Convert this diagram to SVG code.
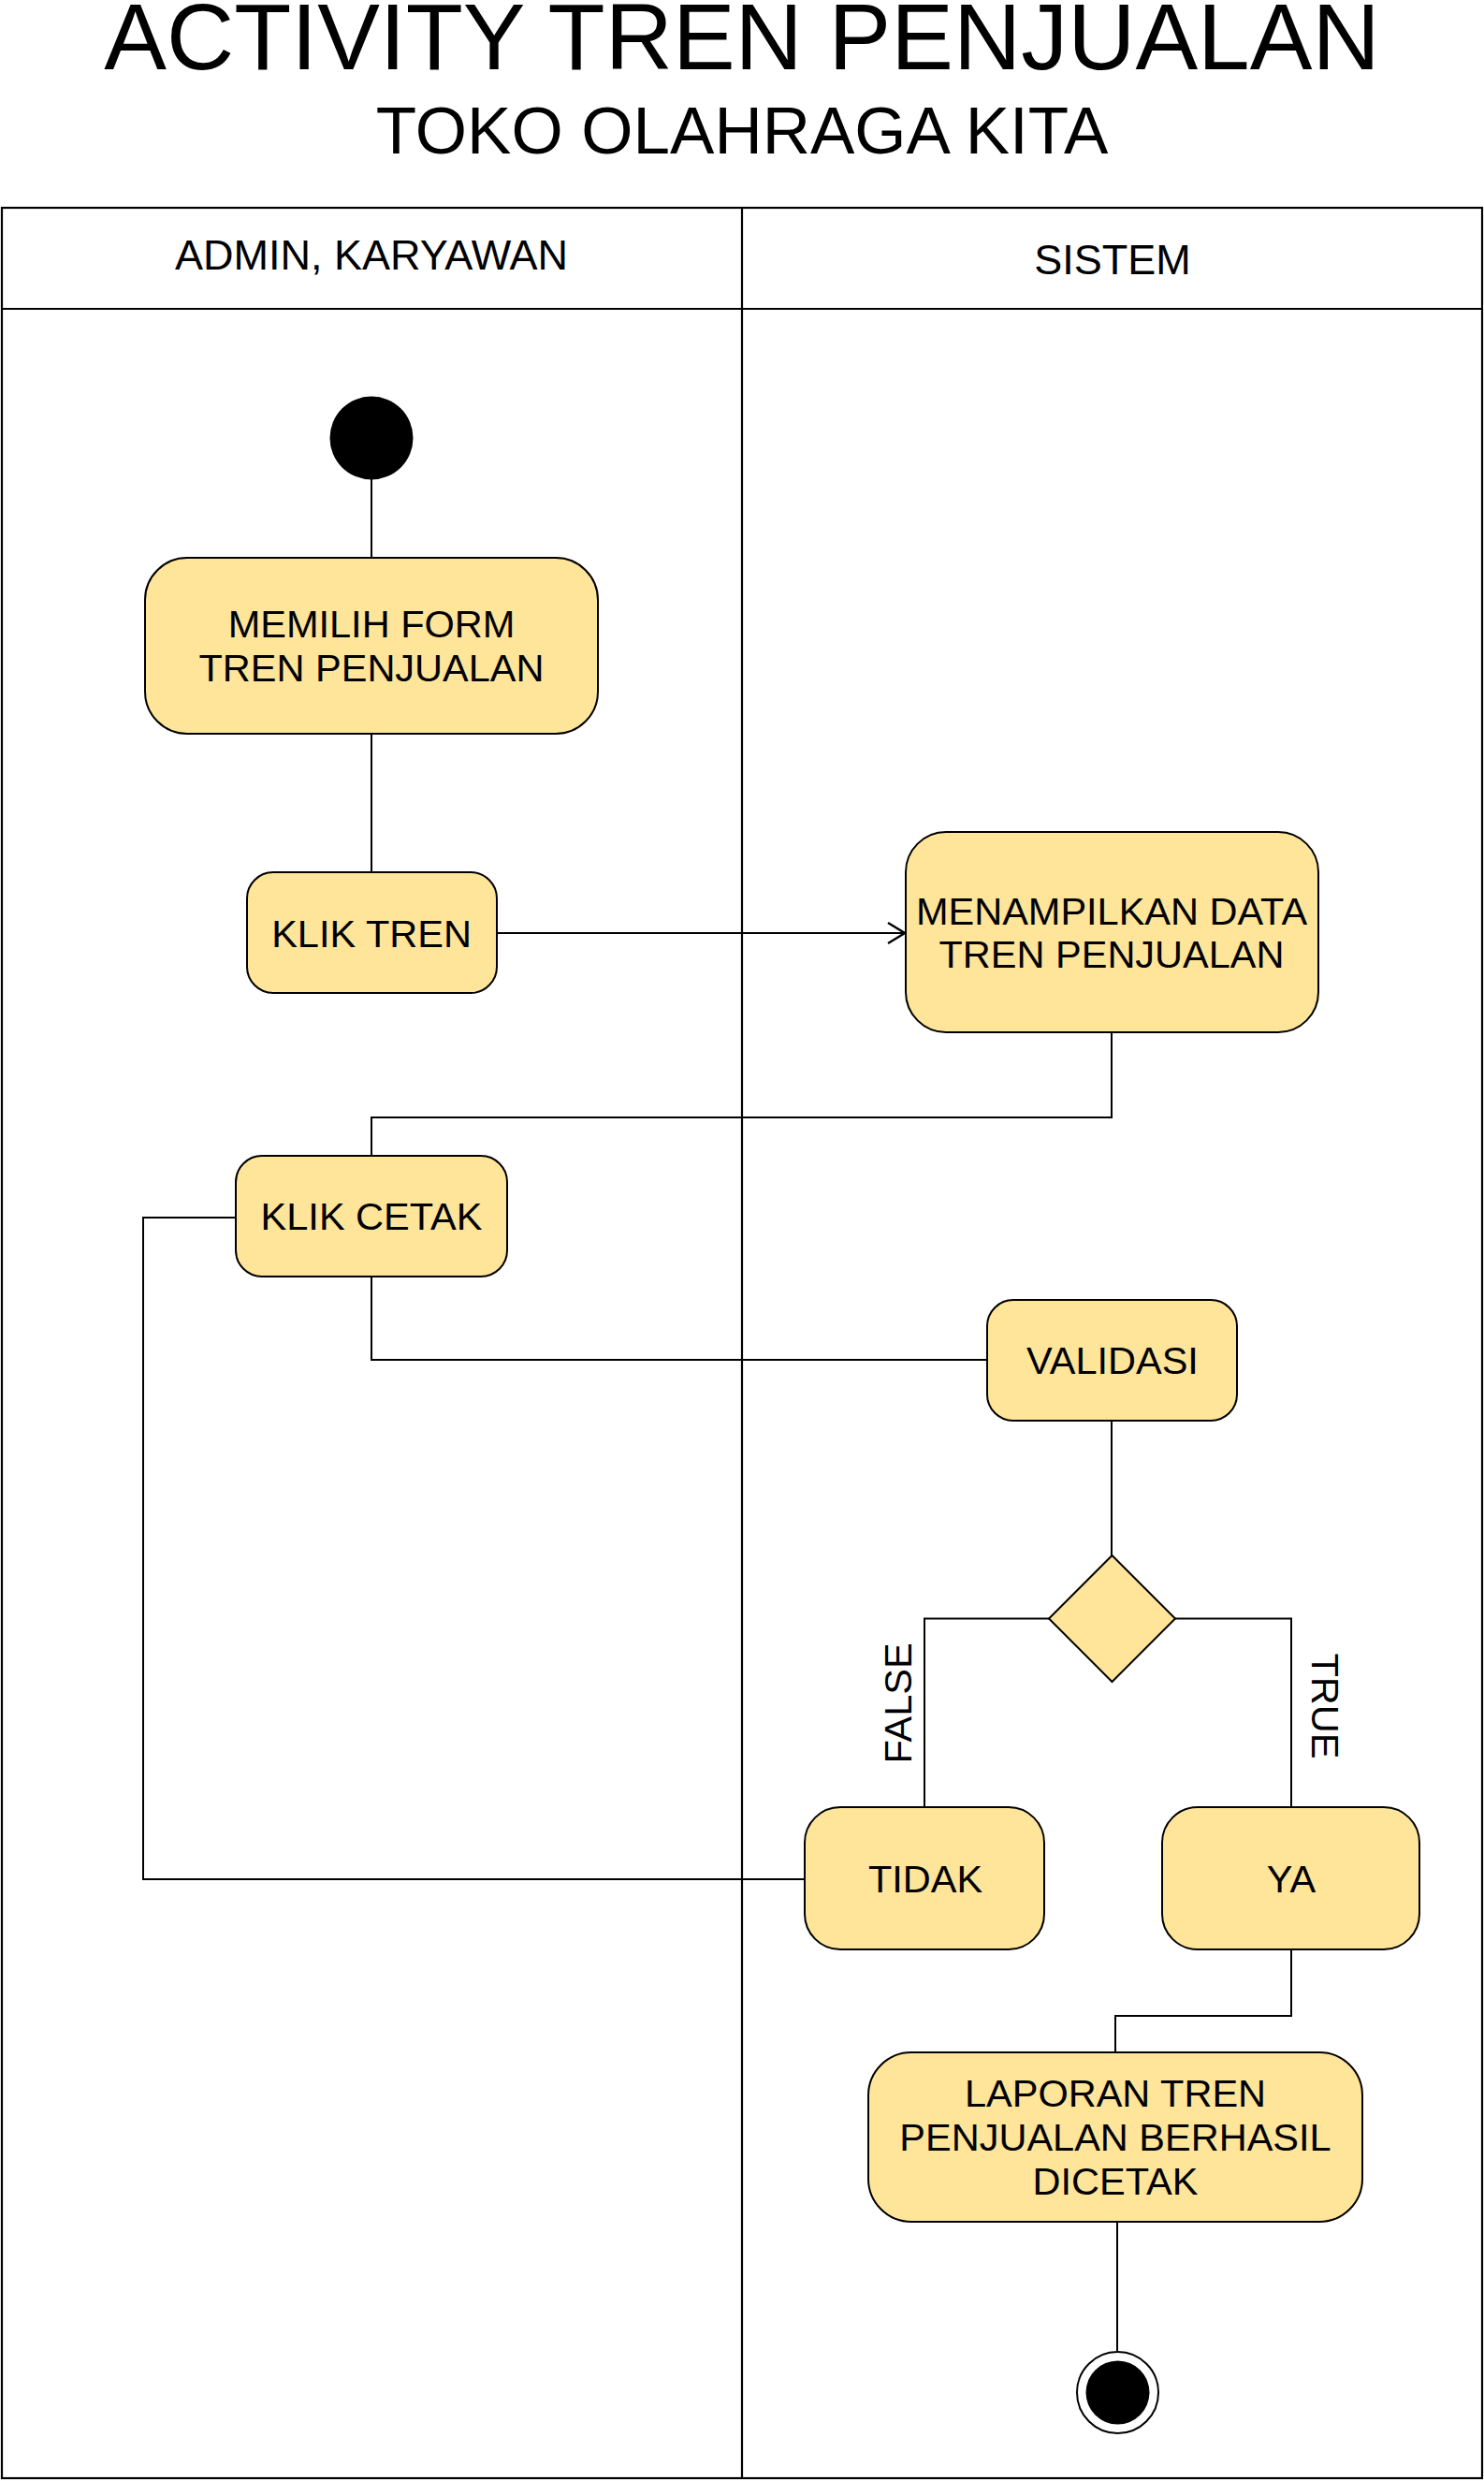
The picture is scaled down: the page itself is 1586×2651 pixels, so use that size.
<svg xmlns="http://www.w3.org/2000/svg" width="1586" height="2651" viewBox="0 0 1586 2651">
<defs>
<style>
text{font-family:"Liberation Sans",Arial,sans-serif;fill:#000;text-anchor:middle}
.node{fill:#FFE599;stroke:#000;stroke-width:2}
.lbl{font-size:41.5px}
.hdr{font-size:45px}
.lane{fill:none;stroke:#000;stroke-width:2.2}
.conn path,.conn line{fill:none;stroke:#000;stroke-width:2}
</style>
<marker id="arrow" markerUnits="userSpaceOnUse" markerWidth="22" markerHeight="26" viewBox="0 0 22 26" refX="20" refY="13" orient="auto">
<path d="M2,2 L20,13 L2,24" fill="none" stroke="#000" stroke-width="2.4"/>
</marker>
</defs>
<rect width="1586" height="2651" fill="#fff"/>
<g id="title">
<text x="793" y="74" style="font-size:100px">ACTIVITY TREN PENJUALAN</text>
<text x="793" y="164" style="font-size:71px">TOKO OLAHRAGA KITA</text>
</g>
<g id="swimlanes">
<rect class="lane" x="2" y="222" width="1582" height="2426"/>
<line class="lane" x1="2" y1="330" x2="1584" y2="330"/>
<line class="lane" x1="793" y1="222" x2="793" y2="2648"/>
<text class="hdr" x="397" y="288">ADMIN, KARYAWAN</text>
<text class="hdr" x="1189" y="293">SISTEM</text>
</g>
<g class="conn" id="connectors">
<line x1="397" y1="512" x2="397" y2="596"/>
<line x1="397" y1="784" x2="397" y2="932"/>
<line x1="531" y1="997" x2="967" y2="997" marker-end="url(#arrow)"/>
<path d="M1188,1103 V1194 H397 V1235"/>
<path d="M397,1364 V1453 H1055"/>
<line x1="1188" y1="1518" x2="1188" y2="1662"/>
<path d="M1121,1729.5 H988 V1931"/>
<path d="M1256,1729.5 H1380 V1931"/>
<path d="M860,2008 H153 V1301 H252"/>
<path d="M1380,2083 V2154 H1192 V2193"/>
<line x1="1194" y1="2374" x2="1194" y2="2512"/>
<text class="lbl" transform="translate(974,1820) rotate(-90)">FALSE</text>
<text class="lbl" transform="translate(1402,1823) rotate(90)">TRUE</text>
</g>
<g id="start">
<circle cx="397" cy="468" r="44.5" fill="#000"/>
</g>
<g id="memilih-form">
<rect class="node" x="155" y="596" width="484" height="188" rx="45" ry="45"/>
<text class="lbl" x="397" y="681">MEMILIH FORM</text>
<text class="lbl" x="397" y="728">TREN PENJUALAN</text>
</g>
<g id="klik-tren">
<rect class="node" x="264" y="932" width="267" height="129" rx="28" ry="28"/>
<text class="lbl" x="397" y="1012">KLIK TREN</text>
</g>
<g id="menampilkan-data">
<rect class="node" x="968" y="889" width="441" height="214" rx="43" ry="43"/>
<text class="lbl" x="1188" y="988">MENAMPILKAN DATA</text>
<text class="lbl" x="1188" y="1034">TREN PENJUALAN</text>
</g>
<g id="klik-cetak">
<rect class="node" x="252" y="1235" width="290" height="129" rx="28" ry="28"/>
<text class="lbl" x="397" y="1314">KLIK CETAK</text>
</g>
<g id="validasi">
<rect class="node" x="1055" y="1389" width="267" height="129" rx="28" ry="28"/>
<text class="lbl" x="1189" y="1468">VALIDASI</text>
</g>
<g id="decision">
<path class="node" d="M1188.5,1662 L1256,1729.5 L1188.5,1797 L1121,1729.5 Z"/>
</g>
<g id="tidak">
<rect class="node" x="860" y="1931" width="256" height="152" rx="38" ry="38"/>
<text class="lbl" x="989" y="2022">TIDAK</text>
</g>
<g id="ya">
<rect class="node" x="1242" y="1931" width="275" height="152" rx="38" ry="38"/>
<text class="lbl" x="1380" y="2022">YA</text>
</g>
<g id="laporan">
<rect class="node" x="928" y="2193" width="528" height="181" rx="46" ry="46"/>
<text class="lbl" x="1192" y="2251">LAPORAN TREN</text>
<text class="lbl" x="1192" y="2298">PENJUALAN BERHASIL</text>
<text class="lbl" x="1192" y="2345">DICETAK</text>
</g>
<g id="end">
<circle cx="1194.5" cy="2556.5" r="43.5" fill="#fff" stroke="#000" stroke-width="2"/>
<circle cx="1194.5" cy="2556.5" r="34" fill="#000"/>
</g>
</svg>
